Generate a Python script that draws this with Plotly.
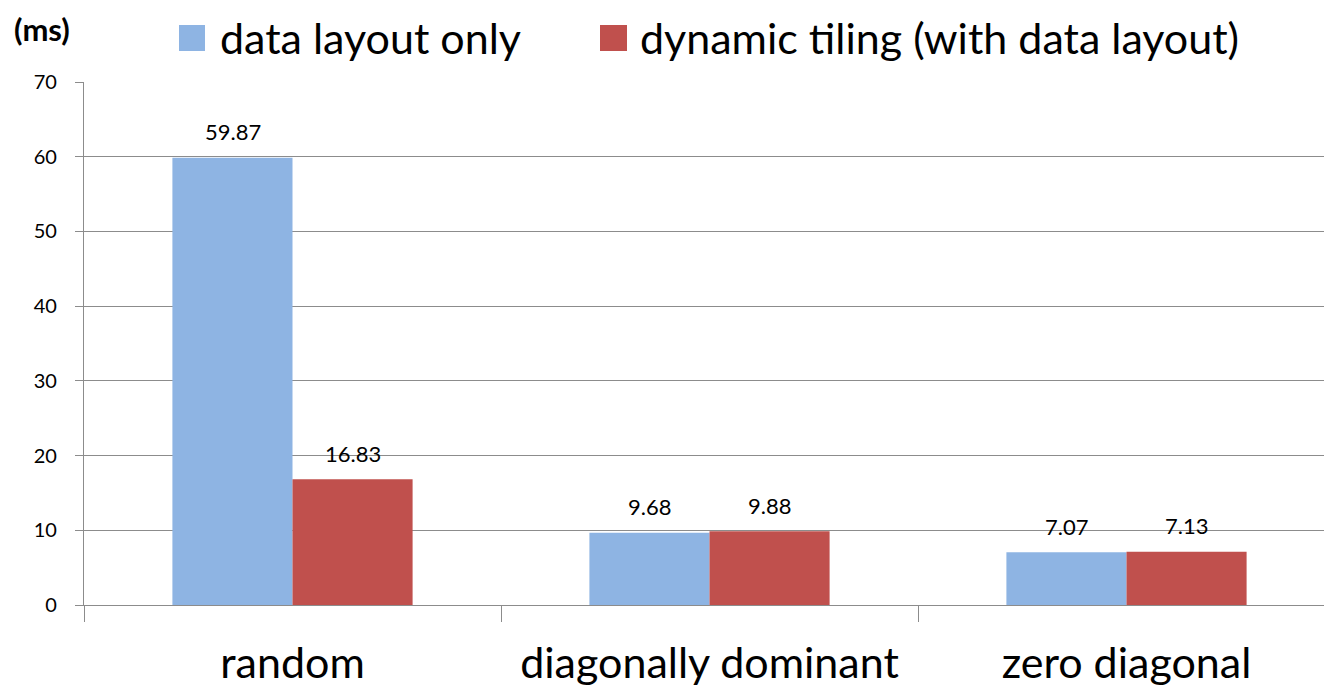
import plotly.graph_objects as go

categories = ["random", "diagonally dominant", "zero diagonal"]
series_names = ["data layout only", "dynamic tiling (with data layout)"]
data_layout_only = [59.87, 9.68, 7.07]
dynamic_tiling = [16.83, 9.88, 7.13]
series_values = [data_layout_only, dynamic_tiling]
colors = ["#8EB4E3", "#C0504D"]
y_ticks = [0, 10, 20, 30, 40, 50, 60, 70]
unit_label = "(ms)"

W, H = 1324, 690
L, R_EDGE, T, B = 84, 1324, 82, 605
FONT = "Lato, 'Open Sans', sans-serif"


def px_x(px):
    return (px - L) / (R_EDGE - L)


def px_y(py):
    return (B - py) / (B - T)


fig = go.Figure()
for name, vals, col in zip(series_names, series_values, colors):
    fig.add_trace(go.Bar(
        x=categories, y=vals, name=name,
        marker=dict(color=col, line=dict(width=0)),
        showlegend=False,
    ))

annotations = []
shifts = [-60, 60]
for vals, sh in zip(series_values, shifts):
    for c, v in zip(categories, vals):
        annotations.append(dict(
            x=c, y=v, xref="x", yref="y", text=f"{v:.2f}",
            showarrow=False, xshift=sh, yshift=26, yanchor="middle",
            font=dict(family=FONT, size=22, color="#000000"),
        ))

# unit label
annotations.append(dict(
    x=px_x(12), y=px_y(29), xref="paper", yref="paper", text=f"<b>{unit_label}</b>",
    showarrow=False, xanchor="left", yanchor="middle",
    font=dict(family=FONT, size=31, color="#000000"),
))

# manual legend
legend_items = [(179, 205, 218), (600, 627, 638)]
shapes = []
for (x0, x1, tx), name, col in zip(legend_items, series_names, colors):
    shapes.append(dict(
        type="rect", xref="paper", yref="paper",
        x0=px_x(x0), x1=px_x(x1), y0=px_y(51), y1=px_y(25),
        fillcolor=col, line=dict(width=0),
    ))
    annotations.append(dict(
        x=px_x(tx), y=px_y(37), xref="paper", yref="paper", text=name,
        showarrow=False, xanchor="left", yanchor="middle",
        font=dict(family=FONT, size=43, color="#000000"),
    ))

fig.update_layout(
    width=W, height=H,
    margin=dict(l=L, r=0, t=T, b=H - B, pad=0),
    paper_bgcolor="white", plot_bgcolor="white",
    barmode="group", bargap=0.424, bargroupgap=0,
    annotations=annotations, shapes=shapes,
    showlegend=False,
    font=dict(family=FONT, color="#000000"),
)
fig.update_xaxes(
    type="category", range=[-0.5, -0.5 + (R_EDGE - L) / 417.0],
    tickson="boundaries", ticks="outside", ticklen=16, tickcolor="#8C8C8C", tickwidth=1.3,
    showline=True, linecolor="#8C8C8C", linewidth=1.3, showgrid=False,
    tickfont=dict(family=FONT, size=43, color="#000000"),
    ticklabelstandoff=20,
)
fig.update_yaxes(
    range=[0, 70], tickvals=y_ticks, ticks="outside", ticklen=8,
    tickcolor="#8C8C8C", tickwidth=1.3,
    showline=True, linecolor="#8C8C8C", linewidth=1.3,
    showgrid=True, gridcolor="#8C8C8C", gridwidth=1.3, zeroline=False,
    tickfont=dict(family=FONT, size=20, color="#000000"),
    ticklabelstandoff=14,
)

fig.write_html("out.html")
